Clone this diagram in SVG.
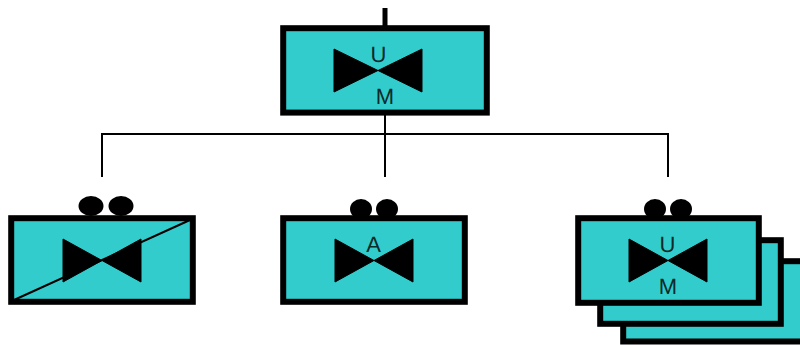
<svg xmlns="http://www.w3.org/2000/svg" width="800" height="345" viewBox="0 0 800 345">
<style>
.box{fill:#33cccc;stroke:#000;stroke-width:6}
.tie{fill:#000;stroke:#000;stroke-width:1;stroke-linejoin:round}
.dot{fill:#000}
.wire{fill:none;stroke:#000;stroke-width:2}
text{font-family:"Liberation Sans",Arial,sans-serif;font-size:22px;fill:#0a2a2a;text-anchor:middle;text-rendering:geometricPrecision}
</style>
<g id="connectors">
<path d="M385 8V28" fill="none" stroke="#000" stroke-width="5"/>
<path class="wire" d="M385 113V177M102 177V134H668V177"/>
</g>
<g id="node-top">
<rect class="box" x="283.200" y="28.200" width="203.600" height="84.400"/>
<path class="tie" d="M334 49L422 92V49L334 92Z"/>
<text x="378.500" y="61.500">U</text>
<text x="385" y="104">M</text>
</g>
<g id="node-left">
<ellipse class="dot" cx="91" cy="206" rx="12.500" ry="10"/>
<ellipse class="dot" cx="121" cy="206" rx="12.500" ry="10"/>
<rect class="box" x="11.200" y="218.200" width="181.600" height="83.600"/>
<path d="M14 300L190 220" fill="none" stroke="#000" stroke-width="2"/>
<path class="tie" d="M63 239L141 282V239L63 282Z"/>
</g>
<g id="node-middle">
<ellipse class="dot" cx="361" cy="209" rx="11" ry="10"/>
<ellipse class="dot" cx="387" cy="209" rx="11" ry="10"/>
<rect class="box" x="283.200" y="218.200" width="181.600" height="83.600"/>
<path class="tie" d="M335 239L413 282V239L335 282Z"/>
<text x="373.500" y="251.700">A</text>
</g>
<g id="node-right">
<rect class="box" x="623.200" y="261.200" width="182" height="80.300"/>
<rect class="box" x="600.200" y="240.200" width="180.600" height="83.600"/>
<ellipse class="dot" cx="655" cy="209" rx="11" ry="10"/>
<ellipse class="dot" cx="681" cy="209" rx="11" ry="10"/>
<rect class="box" x="578.200" y="218.200" width="180.600" height="84.600"/>
<path class="tie" d="M629 239L707 282V239L629 282Z"/>
<text x="667.500" y="251.700">U</text>
<text x="668" y="294">M</text>
</g>
</svg>
